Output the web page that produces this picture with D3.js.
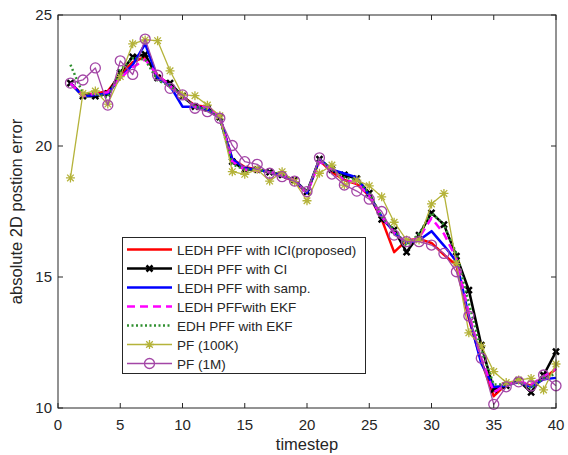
<!DOCTYPE html>
<meta charset="utf-8">
<style>
    body { margin: 0; background: #fff; }
    text { font-family: "Liberation Sans", Arial, sans-serif; fill: #262626; }
</style>
<body>
<script src="https://d3js.org/d3.v7.min.js"></script>
<svg width="568" height="455"></svg>
<script>
    // timesteps 1..40
    var steps = d3.range(1, 41);

    var ledhICI = [22.4, 21.95, 22.0, 22.1, 22.7, 23.2, 23.4, 22.7, 22.3, 21.9,
        21.55, 21.5, 21.1, 19.5, 19.2, 19.1, 19.0, 18.85, 18.65, 18.2,
        19.45, 19.0, 18.7, 18.55, 18.1, 17.2, 15.95, 16.4, 16.45, 16.3,
        15.85, 15.45, 13.4, 11.8, 10.45, 10.9, 11.0, 10.85, 11.1, 11.5];
    var ledhCI = [22.4, 21.9, 21.9, 22.0, 22.8, 23.4, 23.5, 22.6, 22.4, 21.9,
        21.5, 21.45, 21.1, 19.4, 19.1, 19.1, 19.0, 18.9, 18.7, 18.25,
        19.5, 19.1, 18.9, 18.75, 18.2, 17.2, 16.8, 15.95, 16.6, 17.45,
        17.0, 15.8, 14.5, 12.4, 10.7, 10.85, 11.05, 10.6, 11.25, 12.15];
    var ledhSamp = [22.4, 21.9, 21.95, 22.0, 22.6, 23.1, 23.9, 22.6, 22.3, 21.5,
        21.5, 21.4, 21.1, 19.5, 19.15, 19.1, 19.0, 18.85, 18.7, 18.2,
        19.5, 19.1, 18.95, 18.8, 18.1, 17.3, 16.7, 16.3, 16.4, 16.75,
        16.2, 15.6, 13.5, 11.7, 10.8, 10.85, 11.0, 10.8, 11.1, 11.15];
    var ledhEKF = [22.4, 21.9, 22.0, 22.05, 22.6, 23.0, 23.3, 22.7, 22.3, 21.9,
        21.5, 21.5, 21.1, 19.4, 19.1, 19.05, 19.0, 18.9, 18.7, 18.2,
        19.4, 19.1, 18.7, 18.6, 18.1, 17.3, 16.7, 16.3, 16.5, 17.25,
        16.65, 15.7, 13.6, 11.9, 10.6, 10.9, 11.0, 10.9, 11.2, 11.5];
    var edhEKF = [23.1, 22.0, 22.0, 21.85, 22.9, 23.35, 23.3, 22.5, 22.3, 21.9,
        21.5, 21.4, 21.05, 19.3, 19.1, 19.1, 19.0, 18.9, 18.65, 18.25,
        19.5, 19.1, 18.8, 18.7, 18.2, 17.3, 16.8, 16.2, 16.65, 17.45,
        17.0, 15.9, 14.0, 12.2, 10.9, 10.9, 11.0, 10.75, 11.15, 11.3];
    var pf100k = [18.78, 22.0, 22.1, 21.6, 22.65, 23.9, 24.05, 24.02, 22.87, 21.95,
        21.92, 21.56, 21.15, 19.02, 18.92, 19.11, 18.66, 19.02, 18.64, 17.91,
        18.96, 19.27, 18.51, 18.7, 18.48, 18.06, 17.09, 16.41, 16.41, 17.79,
        18.19, 15.52, 12.87, 12.37, 11.39, 10.97, 11.07, 11.13, 10.69, 11.68];
    var pf1m = [22.4, 22.52, 22.98, 21.56, 23.25, 22.73, 24.08, 22.7, 22.2, 21.95,
        21.44, 21.31, 21.06, 20.02, 19.4, 19.3, 18.96, 18.83, 18.66, 18.26,
        19.55, 18.93, 18.51, 18.28, 17.97, 17.5, 16.6, 16.35, 16.35, 16.22,
        15.9, 15.2, 13.51, 11.9, 10.14, 10.81, 11.0, 10.84, 11.26, 10.85];

    var xTicks = [0, 5, 10, 15, 20, 25, 30, 35, 40];
    var yTicks = [10, 15, 20, 25];

    var series = [
        { name: "LEDH PFF with ICI(proposed)", values: ledhICI, color: "#ff0000", width: 2.5, dash: null, marker: null },
        { name: "LEDH PFF with CI", values: ledhCI, color: "#000000", width: 2.5, dash: null, marker: "x" },
        { name: "LEDH PFF with samp.", values: ledhSamp, color: "#0000ff", width: 2.5, dash: null, marker: null },
        { name: "LEDH PFFwith EKF", values: ledhEKF, color: "#ff00ff", width: 2.5, dash: "8,5", marker: null },
        { name: "EDH PFF with EKF", values: edhEKF, color: "#2f8f2f", width: 2.5, dash: "2,2.5", marker: null },
        { name: "PF (100K)", values: pf100k, color: "#b5b33a", width: 1.3, dash: null, marker: "star" },
        { name: "PF (1M)", values: pf1m, color: "#a346a6", width: 1.3, dash: null, marker: "circle" }
    ];

    var svg = d3.select("svg");
    var mLeft = 58, mRight = 556, mTop = 15, mBottom = 408;

    var x = d3.scaleLinear().domain([0, 40]).range([mLeft, mRight]);
    var y = d3.scaleLinear().domain([10, 25]).range([mBottom, mTop]);

    var plot = svg.append("g");

    function drawMarker(g, type, cx, cy, color) {
        if (type === "circle") {
            g.append("circle").attr("cx", cx).attr("cy", cy).attr("r", 5)
                .attr("fill", "none").attr("stroke", color).attr("stroke-width", 1.3);
        } else if (type === "star") {
            var s = 4.5, d = 3.3;
            var p = "M" + (cx - s) + "," + cy + "L" + (cx + s) + "," + cy +
                "M" + cx + "," + (cy - s) + "L" + cx + "," + (cy + s) +
                "M" + (cx - d) + "," + (cy - d) + "L" + (cx + d) + "," + (cy + d) +
                "M" + (cx - d) + "," + (cy + d) + "L" + (cx + d) + "," + (cy - d);
            g.append("path").attr("d", p).attr("stroke", color).attr("stroke-width", 1.3);
        } else if (type === "x") {
            var k = 3;
            var p2 = "M" + (cx - k) + "," + (cy - k) + "L" + (cx + k) + "," + (cy + k) +
                "M" + (cx - k) + "," + (cy + k) + "L" + (cx + k) + "," + (cy - k);
            g.append("path").attr("d", p2).attr("stroke", color).attr("stroke-width", 2.5);
        }
    }

    var line = d3.line()
        .x(function(d, i) { return x(steps[i]); })
        .y(function(d) { return y(d); });

    series.forEach(function(s) {
        var g = plot.append("g");
        g.append("path")
            .attr("d", line(s.values))
            .attr("fill", "none")
            .attr("stroke", s.color)
            .attr("stroke-width", s.width)
            .attr("stroke-dasharray", s.dash)
            .attr("stroke-linejoin", "round");
        if (s.marker) {
            s.values.forEach(function(v, i) {
                drawMarker(g, s.marker, x(steps[i]), y(v), s.color);
            });
        }
    });

    // axes (box with ticks on all sides, pointing inward)
    var axisColor = "#262626";
    var tl = 5;
    var ax = svg.append("g").attr("stroke", axisColor).attr("stroke-width", 1);
    ax.append("rect").attr("x", mLeft).attr("y", mTop)
        .attr("width", mRight - mLeft).attr("height", mBottom - mTop).attr("fill", "none");
    xTicks.forEach(function(t) {
        ax.append("line").attr("x1", x(t)).attr("x2", x(t)).attr("y1", mBottom).attr("y2", mBottom - tl);
        ax.append("line").attr("x1", x(t)).attr("x2", x(t)).attr("y1", mTop).attr("y2", mTop + tl);
    });
    yTicks.forEach(function(t) {
        ax.append("line").attr("x1", mLeft).attr("x2", mLeft + tl).attr("y1", y(t)).attr("y2", y(t));
        ax.append("line").attr("x1", mRight).attr("x2", mRight - tl).attr("y1", y(t)).attr("y2", y(t));
    });

    svg.selectAll(".xt").data(xTicks).enter().append("text")
        .attr("x", function(d) { return x(d); })
        .attr("y", mBottom + 22)
        .attr("text-anchor", "middle")
        .style("font-size", "15px")
        .text(function(d) { return d; });

    svg.selectAll(".yt").data(yTicks).enter().append("text")
        .attr("x", mLeft - 6)
        .attr("y", function(d) { return y(d) + 5; })
        .attr("text-anchor", "end")
        .style("font-size", "15px")
        .text(function(d) { return d; });

    svg.append("text")
        .attr("x", (mLeft + mRight) / 2)
        .attr("y", 450)
        .attr("text-anchor", "middle")
        .style("font-size", "16.5px")
        .text("timestep");

    svg.append("text")
        .attr("transform", "translate(22," + ((mTop + mBottom) / 2) + ")rotate(-90)")
        .attr("text-anchor", "middle")
        .style("font-size", "16.5px")
        .text("absolute 2D postion error");

    // legend
    var lg = svg.append("g");
    var lx = 122.5, ly = 237.5, lw = 243, rowH = 19;
    lg.append("rect").attr("x", lx).attr("y", ly).attr("width", lw).attr("height", 136)
        .attr("fill", "#fff").attr("stroke", axisColor).attr("stroke-width", 1);
    series.forEach(function(s, i) {
        var cy = ly + 12 + i * rowH;
        var row = lg.append("g");
        row.append("line").attr("x1", 127).attr("x2", 172).attr("y1", cy).attr("y2", cy)
            .attr("stroke", s.color).attr("stroke-width", s.width).attr("stroke-dasharray", s.dash);
        if (s.marker) drawMarker(row, s.marker, 149.5, cy, s.color);
        row.append("text").attr("x", 177).attr("y", cy + 5)
            .style("font-size", "13.5px").text(s.name);
    });
</script>
</body>
